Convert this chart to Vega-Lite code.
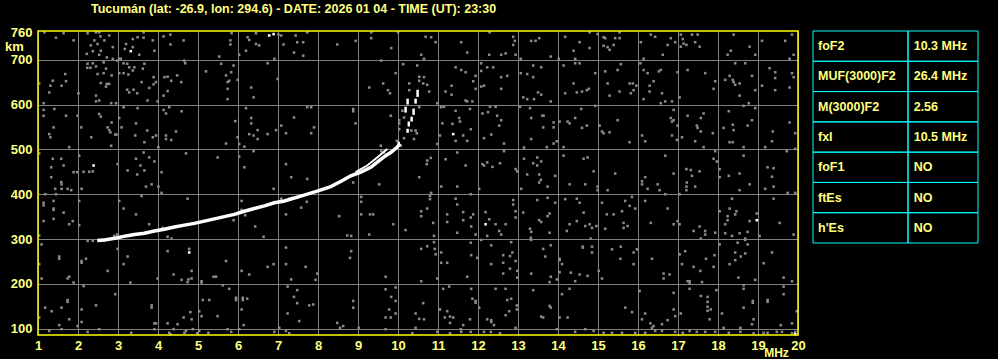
{
"$schema": "https://vega.github.io/schema/vega-lite/v6.json",
"background": "black",
"padding": {"left": 4, "top": 2, "right": 20, "bottom": 0},
"autosize": {"type": "pad"},
"title": {"text": "Tucumán (lat: -26.9, lon: 294.6) - DATE: 2026 01 04 - TIME (UT): 23:30", "anchor": "start", "frame": "group", "dx": 53, "offset": 11.3, "font": "Liberation Sans", "fontSize": 12.5, "fontWeight": "bold", "color": "#FFFF80"},
"spacing": 15,
"bounds": "flush",
"config": {"view": {"stroke": null}, "axis": {"labelOverlap": false, "labelSeparation": 0}, "axisX": {"labelOverlap": false, "labelSeparation": 0}, "axisQuantitative": {"labelOverlap": false}},
"datasets": {
"trace": [{"f":2.48,"h":297},{"f":2.66,"h":298},{"f":2.99,"h":303},{"f":3.2,"h":307},{"f":3.41,"h":310},{"f":3.66,"h":313},{"f":3.91,"h":318},{"f":4.16,"h":322},{"f":4.41,"h":327},{"f":4.66,"h":331},{"f":4.91,"h":335},{"f":5.16,"h":340},{"f":5.41,"h":345},{"f":5.66,"h":350},{"f":5.91,"h":355},{"f":6.16,"h":362},{"f":6.41,"h":368},{"f":6.66,"h":374},{"f":6.91,"h":381},{"f":7.16,"h":385},{"f":7.61,"h":397},{"f":7.98,"h":407},{"f":8.32,"h":417},{"f":8.6,"h":430},{"f":8.82,"h":441},{"f":9.07,"h":449},{"f":9.32,"h":460},{"f":9.53,"h":475},{"f":9.69,"h":486},{"f":9.82,"h":493},{"f":9.97,"h":504},{"f":10.05,"h":513}],
"trace2": [{"f":8.94,"h":449},{"f":9.23,"h":464},{"f":9.48,"h":482},{"f":9.73,"h":501}],
"dashes": [{"f":10.49,"h1":617,"h2":633},{"f":10.44,"h1":602,"h2":613},{"f":10.24,"h1":600,"h2":613},{"f":10.39,"h1":577,"h2":591},{"f":10.19,"h1":582,"h2":595},{"f":10.34,"h1":562,"h2":573},{"f":10.27,"h1":551,"h2":562},{"f":10.24,"h1":537,"h2":546},{"f":10.02,"h1":506,"h2":517}],
"white": [{"f":3.32,"h":719},{"f":6.78,"h":754},{"f":6.89,"h":757},{"f":2.39,"h":464},{"f":4.78,"h":270},{"f":11.38,"h":534},{"f":12.19,"h":333},{"f":18.97,"h":342},{"f":19.93,"h":88}],
"table": [{"p":"foF2","v":"10.3 MHz"},{"p":"MUF(3000)F2","v":"26.4 MHz"},{"p":"M(3000)F2","v":"2.56"},{"p":"fxI","v":"10.5 MHz"},{"p":"foF1","v":"NO"},{"p":"ftEs","v":"NO"},{"p":"h'Es","v":"NO"}],
"noise": [
{"f":1.16,"h":761},{"f":1.64,"h":759},{"f":2.24,"h":759},{"f":2.45,"h":761},{"f":2.53,"h":761},{"f":2.56,"h":752},{"f":2.41,"h":743},{"f":2.32,"h":732},{"f":2.49,"h":735},{"f":2.66,"h":743},{"f":2.78,"h":754},{"f":2.87,"h":728},{"f":2.37,"h":719},{"f":2.22,"h":713},{"f":2.57,"h":720},{"f":2.53,"h":711},{"f":2.72,"h":705},{"f":3.03,"h":702},{"f":3.2,"h":735},{"f":3.17,"h":724},{"f":3.37,"h":728},{"f":3.37,"h":746},{"f":3.49,"h":750},{"f":3.64,"h":749},{"f":3.53,"h":711},{"f":3.64,"h":761},{"f":3.87,"h":743},{"f":3.91,"h":720},{"f":4.14,"h":752},{"f":4.31,"h":756},{"f":4.31,"h":734},{"f":4.64,"h":743},{"f":5.53,"h":707},{"f":5.81,"h":743},{"f":5.81,"h":734},{"f":5.84,"h":759},{"f":6.03,"h":711},{"f":6.24,"h":750},{"f":6.28,"h":744},{"f":6.45,"h":759},{"f":6.45,"h":735},{"f":6.53,"h":732},{"f":6.2,"h":720},{"f":6.91,"h":702},{"f":7.14,"h":734},{"f":7.01,"h":756},{"f":7.08,"h":754},{"f":1.45,"h":749},{"f":1.89,"h":743},{"f":3.07,"h":702},
{"f":1.03,"h":647},{"f":1.14,"h":603},{"f":1.28,"h":627},{"f":1.31,"h":642},{"f":1.37,"h":653},{"f":1.59,"h":642},{"f":1.68,"h":668},{"f":1.7,"h":652},{"f":2.01,"h":625},{"f":2.24,"h":691},{"f":2.23,"h":682},{"f":2.31,"h":682},{"f":2.45,"h":685},{"f":2.37,"h":692},{"f":2.64,"h":694},{"f":2.7,"h":680},{"f":2.49,"h":668},{"f":2.64,"h":670},{"f":2.84,"h":665},{"f":2.72,"h":646},{"f":2.78,"h":646},{"f":2.57,"h":648},{"f":2.7,"h":640},{"f":2.87,"h":702},{"f":3.14,"h":692},{"f":3.23,"h":691},{"f":3.28,"h":683},{"f":3.41,"h":683},{"f":3.37,"h":676},{"f":3.03,"h":670},{"f":3.14,"h":670},{"f":3.26,"h":667},{"f":3.62,"h":680},{"f":3.66,"h":691},{"f":3.89,"h":661},{"f":3.95,"h":650},{"f":3.89,"h":645},{"f":3.59,"h":650},{"f":3.23,"h":633},{"f":3.39,"h":633},{"f":3.28,"h":627},{"f":3.48,"h":625},{"f":3.78,"h":637},{"f":3.74,"h":609},{"f":3.99,"h":607},{"f":2.45,"h":607},{"f":2.53,"h":609},{"f":2.83,"h":603},{"f":2.95,"h":603},{"f":2.45,"h":620},{"f":4.16,"h":661},{"f":4.24,"h":662},{"f":4.33,"h":653},{"f":4.48,"h":665},{"f":4.58,"h":650},{"f":4.66,"h":698},{"f":4.14,"h":620},{"f":4.24,"h":630},{"f":4.68,"h":692},{"f":5.2,"h":674},{"f":5.58,"h":691},{"f":5.7,"h":665},{"f":5.74,"h":650},{"f":5.78,"h":653},{"f":5.83,"h":672},{"f":5.74,"h":635},{"f":5.89,"h":687},{"f":5.99,"h":655},{"f":6.33,"h":638},{"f":6.39,"h":616},{"f":5.74,"h":612},{"f":6.74,"h":692},{"f":6.99,"h":657},{"f":2.98,"h":698},
{"f":1.14,"h":588},{"f":1.14,"h":575},{"f":1.41,"h":590},{"f":1.7,"h":575},{"f":1.39,"h":549},{"f":1.28,"h":534},{"f":1.31,"h":527},{"f":1.78,"h":505},{"f":1.99,"h":575},{"f":2.08,"h":549},{"f":2.33,"h":527},{"f":2.53,"h":579},{"f":2.57,"h":573},{"f":2.74,"h":549},{"f":2.78,"h":543},{"f":2.81,"h":538},{"f":2.84,"h":560},{"f":2.93,"h":533},{"f":2.96,"h":533},{"f":2.83,"h":508},{"f":3.03,"h":570},{"f":3.09,"h":549},{"f":3.14,"h":594},{"f":3.45,"h":558},{"f":3.49,"h":592},{"f":3.43,"h":531},{"f":3.66,"h":516},{"f":3.73,"h":542},{"f":3.87,"h":527},{"f":3.95,"h":531},{"f":4.01,"h":505},{"f":4.14,"h":588},{"f":4.2,"h":580},{"f":4.28,"h":594},{"f":4.33,"h":521},{"f":4.2,"h":531},{"f":4.2,"h":523},{"f":4.45,"h":540},{"f":4.59,"h":585},{"f":5.7,"h":513},{"f":5.93,"h":563},{"f":5.99,"h":527},{"f":6.03,"h":512},{"f":6.16,"h":506},{"f":6.2,"h":592},{"f":6.33,"h":570},{"f":6.33,"h":558},{"f":6.49,"h":543},{"f":6.39,"h":531},{"f":6.49,"h":523},{"f":6.74,"h":534},{"f":6.95,"h":543},{"f":7.08,"h":553},{"f":7.2,"h":536},{"f":6.28,"h":534},
{"f":1.03,"h":491},{"f":1.37,"h":479},{"f":1.58,"h":479},{"f":1.64,"h":464},{"f":1.33,"h":460},{"f":1.33,"h":438},{"f":1.58,"h":427},{"f":1.89,"h":449},{"f":1.98,"h":449},{"f":2.03,"h":486},{"f":2.14,"h":450},{"f":2.28,"h":450},{"f":2.37,"h":451},{"f":2.99,"h":467},{"f":3.24,"h":453},{"f":3.48,"h":444},{"f":3.45,"h":479},{"f":3.56,"h":464},{"f":3.64,"h":493},{"f":3.78,"h":482},{"f":3.66,"h":453},{"f":3.91,"h":473},{"f":4.09,"h":449},{"f":4.7,"h":491},{"f":5.49,"h":482},{"f":6.03,"h":484},{"f":6.16,"h":460},{"f":6.39,"h":496},{"f":7.2,"h":467},{"f":7.33,"h":438},
{"f":7.44,"h":754},{"f":7.48,"h":739},{"f":7.63,"h":739},{"f":7.4,"h":716},{"f":7.63,"h":709},{"f":7.73,"h":761},{"f":8.48,"h":734},{"f":8.94,"h":742},{"f":9.33,"h":761},{"f":9.33,"h":748},{"f":9.83,"h":726},{"f":10.0,"h":761},{"f":10.69,"h":751},{"f":10.83,"h":750},{"f":10.94,"h":739},{"f":10.58,"h":711},{"f":10.65,"h":702},{"f":11.58,"h":739},{"f":11.73,"h":716},{"f":12.29,"h":761},{"f":12.28,"h":711},{"f":12.58,"h":711},{"f":12.69,"h":714},{"f":12.88,"h":751},{"f":12.92,"h":742},{"f":12.88,"h":733},{"f":12.94,"h":711},{"f":13.07,"h":702},{"f":13.33,"h":742},{"f":13.44,"h":742},{"f":13.53,"h":748},
{"f":9.58,"h":698},{"f":10.13,"h":690},{"f":10.48,"h":687},{"f":9.94,"h":670},{"f":10.53,"h":662},{"f":10.53,"h":653},{"f":10.65,"h":661},{"f":10.63,"h":647},{"f":10.28,"h":647},{"f":10.73,"h":644},{"f":10.28,"h":632},{"f":9.28,"h":638},{"f":9.63,"h":647},{"f":9.75,"h":632},{"f":9.8,"h":625},{"f":10.78,"h":629},{"f":11.19,"h":629},{"f":11.34,"h":642},{"f":11.34,"h":622},{"f":11.44,"h":683},{"f":11.58,"h":677},{"f":11.69,"h":672},{"f":11.94,"h":664},{"f":11.88,"h":652},{"f":11.94,"h":635},{"f":12.08,"h":692},{"f":12.08,"h":675},{"f":12.23,"h":683},{"f":12.38,"h":683},{"f":12.58,"h":661},{"f":12.73,"h":664},{"f":12.58,"h":635},{"f":12.08,"h":640},{"f":12.15,"h":642},{"f":13.07,"h":670},{"f":13.23,"h":668},{"f":13.38,"h":687},{"f":13.38,"h":661},{"f":13.58,"h":683},{"f":13.58,"h":622},{"f":13.13,"h":616},{"f":13.23,"h":612},{"f":13.4,"h":612},{"f":13.5,"h":627},{"f":11.69,"h":609},{"f":11.73,"h":607},{"f":11.86,"h":607},{"f":10.98,"h":603},
{"f":7.73,"h":594},{"f":7.83,"h":594},{"f":8.88,"h":590},{"f":8.88,"h":585},{"f":7.4,"h":571},{"f":7.9,"h":549},{"f":7.83,"h":536},{"f":8.94,"h":558},{"f":9.82,"h":575},{"f":10.11,"h":586},{"f":10.03,"h":565},{"f":10.15,"h":571},{"f":10.03,"h":558},{"f":10.03,"h":545},{"f":9.97,"h":519},{"f":10.15,"h":525},{"f":10.4,"h":523},{"f":10.33,"h":542},{"f":10.44,"h":542},{"f":10.47,"h":536},{"f":10.53,"h":594},{"f":11.08,"h":594},{"f":11.15,"h":595},{"f":11.44,"h":586},{"f":11.11,"h":558},{"f":11.36,"h":557},{"f":11.53,"h":570},{"f":11.55,"h":562},{"f":11.8,"h":590},{"f":11.82,"h":545},{"f":11.63,"h":531},{"f":11.73,"h":519},{"f":11.44,"h":519},{"f":12.11,"h":580},{"f":12.25,"h":583},{"f":12.3,"h":595},{"f":12.44,"h":595},{"f":12.48,"h":575},{"f":12.58,"h":565},{"f":12.53,"h":553},{"f":12.15,"h":525},{"f":12.33,"h":533},{"f":12.65,"h":513},{"f":11.05,"h":531},{"f":10.98,"h":512},{"f":13.05,"h":595},{"f":13.3,"h":592},{"f":13.33,"h":570},{"f":13.61,"h":575},{"f":13.63,"h":549},{"f":13.33,"h":523},{"f":13.15,"h":504},
{"f":7.73,"h":434},{"f":9.57,"h":508},{"f":9.58,"h":496},{"f":9.65,"h":493},{"f":10.07,"h":508},{"f":10.73,"h":475},{"f":10.82,"h":481},{"f":10.72,"h":467},{"f":10.53,"h":438},{"f":11.19,"h":478},{"f":11.48,"h":493},{"f":11.69,"h":464},{"f":12.11,"h":467},{"f":12.15,"h":464},{"f":12.23,"h":471},{"f":12.36,"h":461},{"f":12.55,"h":469},{"f":12.65,"h":496},{"f":12.94,"h":456},{"f":12.98,"h":451},{"f":13.15,"h":479},{"f":13.23,"h":444},{"f":13.38,"h":469},{"f":13.48,"h":482},{"f":13.58,"h":473},{"f":13.53,"h":444},{"f":13.57,"h":432},{"f":13.48,"h":464},
{"f":14.18,"h":751},{"f":14.79,"h":761},{"f":14.99,"h":757},{"f":15.14,"h":750},{"f":15.18,"h":748},{"f":15.43,"h":748},{"f":15.54,"h":748},{"f":15.54,"h":761},{"f":15.14,"h":731},{"f":15.24,"h":728},{"f":15.29,"h":722},{"f":15.39,"h":733},{"f":14.54,"h":739},{"f":14.79,"h":726},{"f":14.39,"h":720},{"f":13.82,"h":707},{"f":14.02,"h":702},{"f":14.43,"h":702},{"f":16.07,"h":739},{"f":16.32,"h":756},{"f":16.43,"h":751},{"f":16.82,"h":748},{"f":16.93,"h":739},{"f":16.74,"h":733},{"f":16.62,"h":711},{"f":16.14,"h":702},{"f":17.07,"h":756},{"f":17.12,"h":746},{"f":17.14,"h":736},{"f":17.07,"h":729},{"f":17.35,"h":756},{"f":17.49,"h":756},{"f":17.43,"h":739},{"f":17.54,"h":729},{"f":17.21,"h":733},{"f":18.39,"h":756},{"f":19.1,"h":742},{"f":18.79,"h":729},{"f":18.24,"h":711},{"f":18.32,"h":720},{"f":18.93,"h":711},{"f":19.68,"h":742},{"f":19.85,"h":756},{"f":19.89,"h":711},{"f":19.79,"h":702},
{"f":14.14,"h":687},{"f":14.43,"h":692},{"f":14.54,"h":692},{"f":14.93,"h":670},{"f":15.18,"h":674},{"f":15.57,"h":690},{"f":15.49,"h":677},{"f":16.06,"h":692},{"f":16.14,"h":677},{"f":16.24,"h":670},{"f":16.52,"h":674},{"f":16.57,"h":677},{"f":16.39,"h":652},{"f":16.29,"h":642},{"f":16.29,"h":629},{"f":16.14,"h":612},{"f":16.6,"h":625},{"f":16.68,"h":607},{"f":16.85,"h":607},{"f":16.57,"h":603},{"f":15.87,"h":647},{"f":15.89,"h":632},{"f":15.96,"h":642},{"f":15.79,"h":647},{"f":15.82,"h":625},{"f":15.54,"h":629},{"f":15.24,"h":647},{"f":15.29,"h":620},{"f":14.72,"h":632},{"f":14.77,"h":635},{"f":14.6,"h":629},{"f":14.47,"h":627},{"f":14.39,"h":647},{"f":14.18,"h":625},{"f":13.82,"h":607},{"f":16.99,"h":672},{"f":17.04,"h":616},{"f":17.24,"h":677},{"f":17.68,"h":670},{"f":17.93,"h":652},{"f":17.89,"h":635},{"f":18.29,"h":664},{"f":18.18,"h":655},{"f":18.37,"h":655},{"f":18.39,"h":650},{"f":18.43,"h":644},{"f":18.54,"h":647},{"f":18.54,"h":620},{"f":18.85,"h":664},{"f":18.93,"h":632},{"f":18.68,"h":692},{"f":18.43,"h":692},{"f":18.77,"h":603},{"f":19.1,"h":642},{"f":19.29,"h":681},{"f":19.43,"h":672},{"f":19.43,"h":659},{"f":19.85,"h":670},{"f":19.89,"h":661},{"f":19.79,"h":638},{"f":19.43,"h":632},
{"f":13.64,"h":575},{"f":13.89,"h":560},{"f":13.89,"h":549},{"f":14.04,"h":562},{"f":14.24,"h":562},{"f":14.29,"h":558},{"f":14.43,"h":570},{"f":14.58,"h":590},{"f":14.72,"h":553},{"f":14.6,"h":548},{"f":14.93,"h":597},{"f":15.04,"h":553},{"f":15.1,"h":540},{"f":15.14,"h":536},{"f":15.29,"h":538},{"f":15.49,"h":565},{"f":15.79,"h":516},{"f":13.89,"h":513},{"f":13.97,"h":518},{"f":13.72,"h":505},{"f":14.14,"h":505},{"f":16.1,"h":531},{"f":16.18,"h":518},{"f":16.89,"h":588},{"f":16.82,"h":570},{"f":16.85,"h":562},{"f":16.89,"h":565},{"f":16.85,"h":531},{"f":16.99,"h":553},{"f":16.97,"h":521},{"f":17.1,"h":527},{"f":17.24,"h":575},{"f":17.47,"h":553},{"f":17.49,"h":548},{"f":17.57,"h":570},{"f":17.64,"h":580},{"f":17.57,"h":540},{"f":17.87,"h":536},{"f":17.43,"h":518},{"f":17.64,"h":505},{"f":18.14,"h":548},{"f":18.27,"h":585},{"f":18.37,"h":555},{"f":18.39,"h":543},{"f":18.37,"h":516},{"f":18.29,"h":516},{"f":18.74,"h":553},{"f":18.85,"h":565},{"f":18.93,"h":592},{"f":18.64,"h":597},{"f":18.64,"h":505},{"f":19.18,"h":505},{"f":19.37,"h":540},{"f":19.35,"h":518},{"f":19.79,"h":560},{"f":19.93,"h":536},
{"f":14.14,"h":486},{"f":14.64,"h":479},{"f":14.74,"h":482},{"f":14.89,"h":451},{"f":13.93,"h":441},{"f":15.43,"h":446},{"f":16.1,"h":429},{"f":16.18,"h":438},{"f":16.68,"h":486},{"f":16.89,"h":446},{"f":17.21,"h":456},{"f":17.32,"h":454},{"f":17.35,"h":441},{"f":17.54,"h":451},{"f":17.22,"h":426},{"f":17.93,"h":496},{"f":17.89,"h":479},{"f":17.97,"h":473},{"f":18.04,"h":456},{"f":18.04,"h":438},{"f":18.27,"h":441},{"f":18.54,"h":446},{"f":18.64,"h":486},{"f":19.39,"h":458},{"f":19.24,"h":460},{"f":19.35,"h":439},{"f":19.72,"h":496},{"f":19.93,"h":501},
{"f":1.43,"h":412},{"f":1.59,"h":422},{"f":1.59,"h":412},{"f":1.74,"h":412},{"f":1.83,"h":409},{"f":2.09,"h":412},{"f":1.45,"h":400},{"f":3.7,"h":417},{"f":3.84,"h":422},{"f":4.01,"h":417},{"f":4.09,"h":403},{"f":3.59,"h":396},{"f":6.89,"h":412},{"f":1.18,"h":400},
{"f":1.14,"h":381},{"f":1.14,"h":375},{"f":1.39,"h":385},{"f":1.39,"h":368},{"f":1.39,"h":365},{"f":1.64,"h":359},{"f":1.39,"h":345},{"f":1.14,"h":340},{"f":1.78,"h":333},{"f":1.87,"h":340},{"f":2.03,"h":331},{"f":2.03,"h":385},{"f":3.03,"h":385},{"f":3.14,"h":368},{"f":3.45,"h":355},{"f":4.74,"h":390},{"f":3.78,"h":333},{"f":4.24,"h":305},{"f":4.34,"h":301},{"f":4.12,"h":325},{"f":6.09,"h":385},{"f":6.18,"h":353},{"f":5.89,"h":342},{"f":6.09,"h":365},{"f":6.43,"h":328},{"f":6.64,"h":305},{"f":7.2,"h":355},{"f":7.28,"h":390},{"f":7.08,"h":390},{"f":1.03,"h":308},{"f":2.91,"h":307},{"f":2.62,"h":299},{"f":2.24,"h":296},{"f":2.37,"h":296},{"f":2.98,"h":310},
{"f":1.09,"h":288},{"f":1.53,"h":261},{"f":1.53,"h":256},{"f":1.03,"h":244},{"f":1.09,"h":212},{"f":1.78,"h":216},{"f":1.74,"h":212},{"f":1.89,"h":203},{"f":2.09,"h":251},{"f":2.09,"h":247},{"f":2.2,"h":256},{"f":2.74,"h":229},{"f":2.99,"h":278},{"f":3.24,"h":261},{"f":3.14,"h":244},{"f":3.31,"h":203},{"f":3.99,"h":212},{"f":4.24,"h":273},{"f":4.39,"h":221},{"f":4.59,"h":209},{"f":4.78,"h":278},{"f":4.84,"h":229},{"f":4.76,"h":210},{"f":4.84,"h":212},{"f":4.74,"h":204},{"f":5.09,"h":206},{"f":5.09,"h":203},{"f":5.39,"h":216},{"f":5.45,"h":216},{"f":5.7,"h":251},{"f":6.09,"h":229},{"f":6.28,"h":221},{"f":6.74,"h":238},{"f":6.89,"h":244},{"f":7.2,"h":244},{"f":7.2,"h":281},{"f":7.33,"h":210},
{"f":2.14,"h":195},{"f":2.93,"h":177},{"f":1.74,"h":164},{"f":1.74,"h":160},{"f":1.18,"h":147},{"f":1.34,"h":139},{"f":1.59,"h":147},{"f":1.03,"h":125},{"f":1.78,"h":121},{"f":2.09,"h":143},{"f":2.09,"h":115},{"f":2.45,"h":152},{"f":2.53,"h":99},{"f":3.84,"h":152},{"f":3.84,"h":147},{"f":3.91,"h":112},{"f":3.95,"h":112},{"f":4.24,"h":112},{"f":4.39,"h":99},{"f":4.64,"h":125},{"f":4.81,"h":137},{"f":4.84,"h":121},{"f":4.49,"h":110},{"f":5.03,"h":139},{"f":5.09,"h":128},{"f":5.12,"h":164},{"f":5.28,"h":164},{"f":5.49,"h":128},{"f":5.78,"h":189},{"f":5.62,"h":197},{"f":5.95,"h":169},{"f":5.95,"h":164},{"f":6.12,"h":169},{"f":6.12,"h":164},{"f":6.23,"h":167},{"f":6.09,"h":143},{"f":6.03,"h":99},{"f":6.14,"h":108},{"f":7.24,"h":194},{"f":7.24,"h":134},{"f":7.03,"h":102},{"f":5.74,"h":99},{"f":1.28,"h":95},{"f":1.53,"h":108},{"f":1.99,"h":106},{"f":4.7,"h":95},{"f":4.87,"h":99},{"f":5.03,"h":95},{"f":4.28,"h":91},
{"f":1.59,"h":99},{"f":2.24,"h":93},{"f":3.33,"h":91},{"f":3.91,"h":99},{"f":4.31,"h":88},{"f":4.66,"h":91},{"f":4.98,"h":90},{"f":5.26,"h":91},{"f":5.83,"h":93},{"f":6.91,"h":93},{"f":7.2,"h":95},{"f":7.28,"h":90},
{"f":8.88,"h":426},{"f":9.53,"h":422},{"f":11.08,"h":417},{"f":11.48,"h":417},{"f":12.03,"h":412},{"f":13.08,"h":412},{"f":13.53,"h":426},{"f":10.83,"h":403},{"f":7.36,"h":392},{"f":7.48,"h":392},{"f":7.72,"h":383},
{"f":7.58,"h":370},{"f":8.53,"h":351},{"f":9.08,"h":394},{"f":9.08,"h":383},{"f":9.08,"h":355},{"f":9.3,"h":355},{"f":9.38,"h":355},{"f":9.88,"h":333},{"f":10.19,"h":320},{"f":9.28,"h":310},{"f":8.73,"h":308},{"f":8.83,"h":307},{"f":10.8,"h":396},{"f":10.8,"h":389},{"f":10.73,"h":368},{"f":10.58,"h":362},{"f":10.58,"h":351},{"f":10.88,"h":336},{"f":10.9,"h":307},{"f":11.23,"h":355},{"f":11.23,"h":338},{"f":11.44,"h":390},{"f":11.48,"h":377},{"f":11.63,"h":360},{"f":11.63,"h":342},{"f":11.82,"h":348},{"f":11.88,"h":355},{"f":11.83,"h":328},{"f":11.94,"h":310},{"f":11.82,"h":400},{"f":11.48,"h":314},{"f":12.19,"h":360},{"f":12.28,"h":344},{"f":12.44,"h":333},{"f":12.53,"h":318},{"f":12.58,"h":310},{"f":12.69,"h":333},{"f":12.88,"h":387},{"f":12.88,"h":377},{"f":12.94,"h":362},{"f":12.94,"h":348},{"f":13.13,"h":359},{"f":13.3,"h":323},{"f":13.33,"h":316},{"f":13.48,"h":387},{"f":13.53,"h":342},{"f":13.58,"h":338},{"f":12.23,"h":307},{"f":12.08,"h":298},
{"f":8.83,"h":273},{"f":8.8,"h":258},{"f":7.69,"h":238},{"f":7.98,"h":223},{"f":7.94,"h":209},{"f":9.69,"h":216},{"f":10.58,"h":278},{"f":10.73,"h":284},{"f":10.9,"h":293},{"f":10.92,"h":278},{"f":10.94,"h":266},{"f":11.08,"h":270},{"f":11.08,"h":247},{"f":11.23,"h":247},{"f":10.58,"h":206},{"f":11.82,"h":292},{"f":11.83,"h":264},{"f":11.98,"h":258},{"f":12.33,"h":286},{"f":12.33,"h":244},{"f":12.63,"h":264},{"f":12.63,"h":247},{"f":12.63,"h":223},{"f":12.8,"h":262},{"f":12.86,"h":270},{"f":12.83,"h":293},{"f":12.94,"h":251},{"f":12.98,"h":229},{"f":12.8,"h":234},{"f":13.32,"h":303},{"f":13.33,"h":298},{"f":13.33,"h":223},{"f":13.63,"h":278},{"f":12.98,"h":214},{"f":11.73,"h":216},{"f":10.98,"h":212},
{"f":7.48,"h":186},{"f":7.4,"h":171},{"f":7.48,"h":157},{"f":7.78,"h":152},{"f":7.88,"h":154},{"f":8.88,"h":162},{"f":8.88,"h":147},{"f":9.69,"h":188},{"f":9.83,"h":171},{"f":9.94,"h":192},{"f":9.94,"h":162},{"f":9.78,"h":143},{"f":9.94,"h":134},{"f":9.69,"h":125},{"f":9.82,"h":125},{"f":9.69,"h":99},{"f":10.63,"h":157},{"f":10.44,"h":134},{"f":10.53,"h":122},{"f":10.65,"h":121},{"f":10.44,"h":102},{"f":11.05,"h":143},{"f":11.13,"h":189},{"f":11.28,"h":194},{"f":11.23,"h":139},{"f":11.3,"h":127},{"f":11.17,"h":125},{"f":11.38,"h":125},{"f":11.3,"h":113},{"f":11.63,"h":108},{"f":11.83,"h":189},{"f":11.86,"h":167},{"f":11.94,"h":162},{"f":11.94,"h":158},{"f":11.8,"h":121},{"f":12.03,"h":147},{"f":12.23,"h":121},{"f":12.33,"h":119},{"f":12.33,"h":115},{"f":12.4,"h":108},{"f":12.69,"h":189},{"f":12.83,"h":167},{"f":12.73,"h":164},{"f":12.78,"h":139},{"f":12.69,"h":130},{"f":12.97,"h":152},{"f":12.97,"h":143},{"f":13.38,"h":186},{"f":13.58,"h":127},{"f":13.63,"h":125},{"f":8.48,"h":113},{"f":8.55,"h":102},{"f":8.63,"h":106},{"f":9.02,"h":102},{"f":7.53,"h":117},{"f":12.44,"h":189},
{"f":10.98,"h":93},{"f":11.3,"h":90},{"f":11.58,"h":93},{"f":11.57,"h":99},{"f":11.82,"h":93},{"f":12.15,"h":93},{"f":12.32,"h":93},{"f":12.55,"h":90},{"f":12.94,"h":102},{"f":10.36,"h":90},
{"f":13.74,"h":417},{"f":14.29,"h":422},{"f":14.68,"h":422},{"f":14.99,"h":417},{"f":14.99,"h":409},{"f":15.24,"h":409},{"f":16.1,"h":422},{"f":16.24,"h":412},{"f":16.49,"h":422},{"f":16.54,"h":409},{"f":17.21,"h":417},{"f":17.21,"h":409},{"f":17.43,"h":417},{"f":18.54,"h":409},{"f":18.79,"h":422},{"f":19.18,"h":412},{"f":19.39,"h":417},{"f":19.74,"h":403},{"f":19.93,"h":403},
{"f":13.74,"h":392},{"f":13.93,"h":381},{"f":14.18,"h":389},{"f":14.47,"h":390},{"f":14.54,"h":381},{"f":14.64,"h":359},{"f":14.47,"h":340},{"f":14.29,"h":333},{"f":14.22,"h":318},{"f":14.68,"h":329},{"f":14.79,"h":333},{"f":14.85,"h":325},{"f":14.96,"h":329},{"f":14.82,"h":301},{"f":13.79,"h":357},{"f":13.74,"h":351},{"f":13.79,"h":314},{"f":15.1,"h":381},{"f":15.22,"h":355},{"f":15.39,"h":355},{"f":15.6,"h":362},{"f":15.68,"h":385},{"f":15.79,"h":374},{"f":15.85,"h":394},{"f":15.93,"h":368},{"f":15.64,"h":336},{"f":15.64,"h":325},{"f":15.74,"h":329},{"f":15.18,"h":323},{"f":16.18,"h":385},{"f":16.32,"h":336},{"f":16.74,"h":368},{"f":16.68,"h":400},{"f":16.89,"h":333},{"f":16.99,"h":340},{"f":17.04,"h":333},{"f":17.04,"h":400},{"f":17.54,"h":328},{"f":17.39,"h":318},{"f":17.68,"h":318},{"f":17.68,"h":310},{"f":17.57,"h":301},{"f":17.93,"h":314},{"f":18.04,"h":362},{"f":18.18,"h":333},{"f":18.24,"h":342},{"f":18.24,"h":351},{"f":18.29,"h":368},{"f":18.43,"h":355},{"f":18.46,"h":362},{"f":18.35,"h":390},{"f":18.18,"h":313},{"f":18.35,"h":307},{"f":18.54,"h":313},{"f":18.68,"h":301},{"f":18.74,"h":316},{"f":18.79,"h":340},{"f":18.97,"h":357},{"f":19.04,"h":307},{"f":19.39,"h":390},{"f":19.54,"h":336},{"f":19.89,"h":310},
{"f":13.82,"h":286},{"f":14.04,"h":256},{"f":14.04,"h":253},{"f":14.1,"h":244},{"f":14.04,"h":226},{"f":13.82,"h":216},{"f":13.97,"h":210},{"f":13.79,"h":204},{"f":13.68,"h":261},{"f":14.32,"h":225},{"f":14.54,"h":221},{"f":14.62,"h":283},{"f":14.62,"h":281},{"f":14.85,"h":283},{"f":14.85,"h":270},{"f":14.74,"h":218},{"f":14.43,"h":206},{"f":15.02,"h":229},{"f":15.1,"h":212},{"f":15.35,"h":277},{"f":15.57,"h":283},{"f":15.56,"h":256},{"f":15.89,"h":244},{"f":15.97,"h":277},{"f":15.89,"h":270},{"f":16.35,"h":256},{"f":16.64,"h":223},{"f":16.79,"h":221},{"f":16.64,"h":212},{"f":17.04,"h":266},{"f":17.18,"h":273},{"f":17.1,"h":244},{"f":17.39,"h":238},{"f":17.56,"h":229},{"f":17.7,"h":256},{"f":17.91,"h":264},{"f":17.89,"h":238},{"f":18.04,"h":288},{"f":18.29,"h":244},{"f":18.43,"h":253},{"f":18.43,"h":270},{"f":18.49,"h":292},{"f":18.57,"h":261},{"f":18.68,"h":268},{"f":18.68,"h":298},{"f":18.74,"h":288},{"f":18.51,"h":214},{"f":18.93,"h":209},{"f":19.14,"h":246},{"f":19.35,"h":270},{"f":19.64,"h":214},{"f":19.85,"h":206},{"f":17.29,"h":206},{"f":17.24,"h":206},{"f":17.6,"h":204},
{"f":14.29,"h":189},{"f":14.1,"h":177},{"f":13.79,"h":151},{"f":13.82,"h":147},{"f":14.04,"h":125},{"f":14.24,"h":125},{"f":16.04,"h":184},{"f":15.68,"h":147},{"f":15.85,"h":137},{"f":16.18,"h":134},{"f":16.1,"h":121},{"f":16.31,"h":112},{"f":16.39,"h":106},{"f":16.35,"h":102},{"f":16.6,"h":110},{"f":16.74,"h":119},{"f":16.89,"h":180},{"f":16.89,"h":143},{"f":16.93,"h":128},{"f":17.07,"h":134},{"f":17.29,"h":201},{"f":17.29,"h":189},{"f":17.57,"h":173},{"f":17.74,"h":171},{"f":17.74,"h":160},{"f":17.74,"h":149},{"f":17.74,"h":140},{"f":17.82,"h":143},{"f":17.79,"h":121},{"f":17.96,"h":186},{"f":18.1,"h":134},{"f":18.64,"h":197},{"f":18.64,"h":189},{"f":18.64,"h":147},{"f":18.87,"h":162},{"f":18.87,"h":158},{"f":18.89,"h":121},{"f":19.24,"h":164},{"f":19.24,"h":160},{"f":19.64,"h":194},{"f":19.64,"h":177},{"f":19.85,"h":112},{"f":19.57,"h":108},{"f":19.97,"h":139},{"f":18.14,"h":102},{"f":18.56,"h":102},{"f":18.85,"h":110},{"f":13.97,"h":99},{"f":14.68,"h":99},
{"f":14.43,"h":93},{"f":14.89,"h":95},{"f":15.14,"h":91},{"f":15.35,"h":91},{"f":15.6,"h":91},{"f":15.93,"h":91},{"f":16.18,"h":91},{"f":16.43,"h":95},{"f":16.6,"h":95},{"f":16.93,"h":93},{"f":17.12,"h":91},{"f":17.29,"h":95},{"f":17.47,"h":93},{"f":17.68,"h":93},{"f":17.93,"h":93},{"f":18.27,"h":91},{"f":18.56,"h":93},{"f":18.89,"h":90},{"f":19.14,"h":91},{"f":19.24,"h":91},{"f":19.47,"h":93},{"f":19.6,"h":93},{"f":19.85,"h":90},{"f":19.93,"h":93}
]
},
"hconcat": [
{
"width": 760,
"height": 304,
"layer": [
{"data": {"name": "noise"},
 "mark": {"type": "point", "shape": "square", "filled": true, "size": 6.5, "color": "#8a8a8a", "opacity": 1, "strokeWidth": 0},
 "encoding": {
  "x": {"field": "f", "type": "quantitative", "scale": {"domain": [1, 20], "nice": false, "zero": false},
   "axis": {"values": [1,2,3,4,5,6,7,8,9,10,11,12,13,14,15,16,17,18,19,20], "tickCount": 20, "grid": true, "gridColor": "#808080", "gridWidth": 1, "domain": false, "ticks": false, "labelPadding": 4, "labelFlush": false, "labelOverlap": false, "labelSeparation": 0, "labelColor": "#FFFF80", "labelFont": "Liberation Sans", "labelFontWeight": "bold", "labelFontSize": 13, "title": "MHz", "titleColor": "#FFFF80", "titleFont": "Liberation Sans", "titleFontWeight": "bold", "titleFontSize": 12, "titleX": 738, "titleY": 17.5, "titleAlign": "center", "titleBaseline": "middle"}},
  "y": {"field": "h", "type": "quantitative", "scale": {"domain": [86, 764], "nice": false, "zero": false},
   "axis": {"values": [100,200,300,400,500,600,700,760], "grid": true, "gridColor": "#808080", "gridWidth": 1, "gridOpacity": {"condition": {"test": "datum.value == 760", "value": 0}, "value": 1}, "domain": false, "ticks": false, "labelPadding": 6, "labelFlush": false, "labelOverlap": false, "labelBaseline": "middle", "labelColor": "#FFFF80", "labelFont": "Liberation Sans", "labelFontWeight": "bold", "labelFontSize": 13, "title": "km", "titleColor": "#FFFF80", "titleFont": "Liberation Sans", "titleFontWeight": "bold", "titleFontSize": 13, "titleAngle": 0, "titleX": -24, "titleY": 15, "titleAlign": "center", "titleBaseline": "middle"}}
 }},
{"data": {"name": "trace2"},
 "mark": {"type": "line", "color": "white", "strokeWidth": 2},
 "encoding": {"x": {"field": "f", "type": "quantitative", "axis": {"values": [1,2,3,4,5,6,7,8,9,10,11,12,13,14,15,16,17,18,19,20], "labelOverlap": false, "labelFlush": false}}, "y": {"field": "h", "type": "quantitative"}}},
{"data": {"name": "trace"},
 "mark": {"type": "line", "color": "white", "strokeWidth": 3.5},
 "encoding": {"x": {"field": "f", "type": "quantitative", "axis": {"values": [1,2,3,4,5,6,7,8,9,10,11,12,13,14,15,16,17,18,19,20], "labelOverlap": false, "labelFlush": false}}, "y": {"field": "h", "type": "quantitative"}}},
{"data": {"name": "dashes"},
 "mark": {"type": "rule", "color": "white", "strokeWidth": 2.5},
 "encoding": {"x": {"field": "f", "type": "quantitative", "axis": {"values": [1,2,3,4,5,6,7,8,9,10,11,12,13,14,15,16,17,18,19,20], "labelOverlap": false, "labelFlush": false}}, "y": {"field": "h1", "type": "quantitative"}, "y2": {"field": "h2"}}},
{"data": {"name": "white"},
 "mark": {"type": "point", "shape": "square", "filled": true, "size": 6.5, "color": "white", "opacity": 1, "strokeWidth": 0},
 "encoding": {"x": {"field": "f", "type": "quantitative", "axis": {"values": [1,2,3,4,5,6,7,8,9,10,11,12,13,14,15,16,17,18,19,20], "labelOverlap": false, "labelFlush": false}}, "y": {"field": "h", "type": "quantitative"}}},
{"data": {"values": [{}]},
 "mark": {"type": "rect", "fillOpacity": 0, "stroke": "#FFFF00", "strokeWidth": 1.5},
 "encoding": {}}
]
},
{
"hconcat": [
{"width": 95, "height": 212, "data": {"name": "table"},
 "layer": [
  {"mark": {"type": "rect", "fillOpacity": 0, "stroke": "#00FFFF", "strokeWidth": 1},
   "encoding": {"y": {"field": "p", "type": "nominal", "sort": null, "scale": {"paddingInner": 0, "paddingOuter": 0}, "axis": null}}},
  {"mark": {"type": "text", "align": "left", "baseline": "middle", "dx": -42.5, "color": "#FFFF80", "font": "Liberation Sans", "fontWeight": "bold", "fontSize": 12.5},
   "encoding": {"y": {"field": "p", "type": "nominal", "sort": null, "axis": null}, "text": {"field": "p"}}}
 ]},
{"width": 70, "height": 212, "data": {"name": "table"},
 "layer": [
  {"mark": {"type": "rect", "fillOpacity": 0, "stroke": "#00FFFF", "strokeWidth": 1},
   "encoding": {"y": {"field": "p", "type": "nominal", "sort": null, "scale": {"paddingInner": 0, "paddingOuter": 0}, "axis": null}}},
  {"mark": {"type": "text", "align": "left", "baseline": "middle", "dx": -29.3, "color": "#FFFF80", "font": "Liberation Sans", "fontWeight": "bold", "fontSize": 12.5},
   "encoding": {"y": {"field": "p", "type": "nominal", "sort": null, "axis": null}, "text": {"field": "v"}}}
 ]}
],
"spacing": 0,
"bounds": "flush"
}
]
}
